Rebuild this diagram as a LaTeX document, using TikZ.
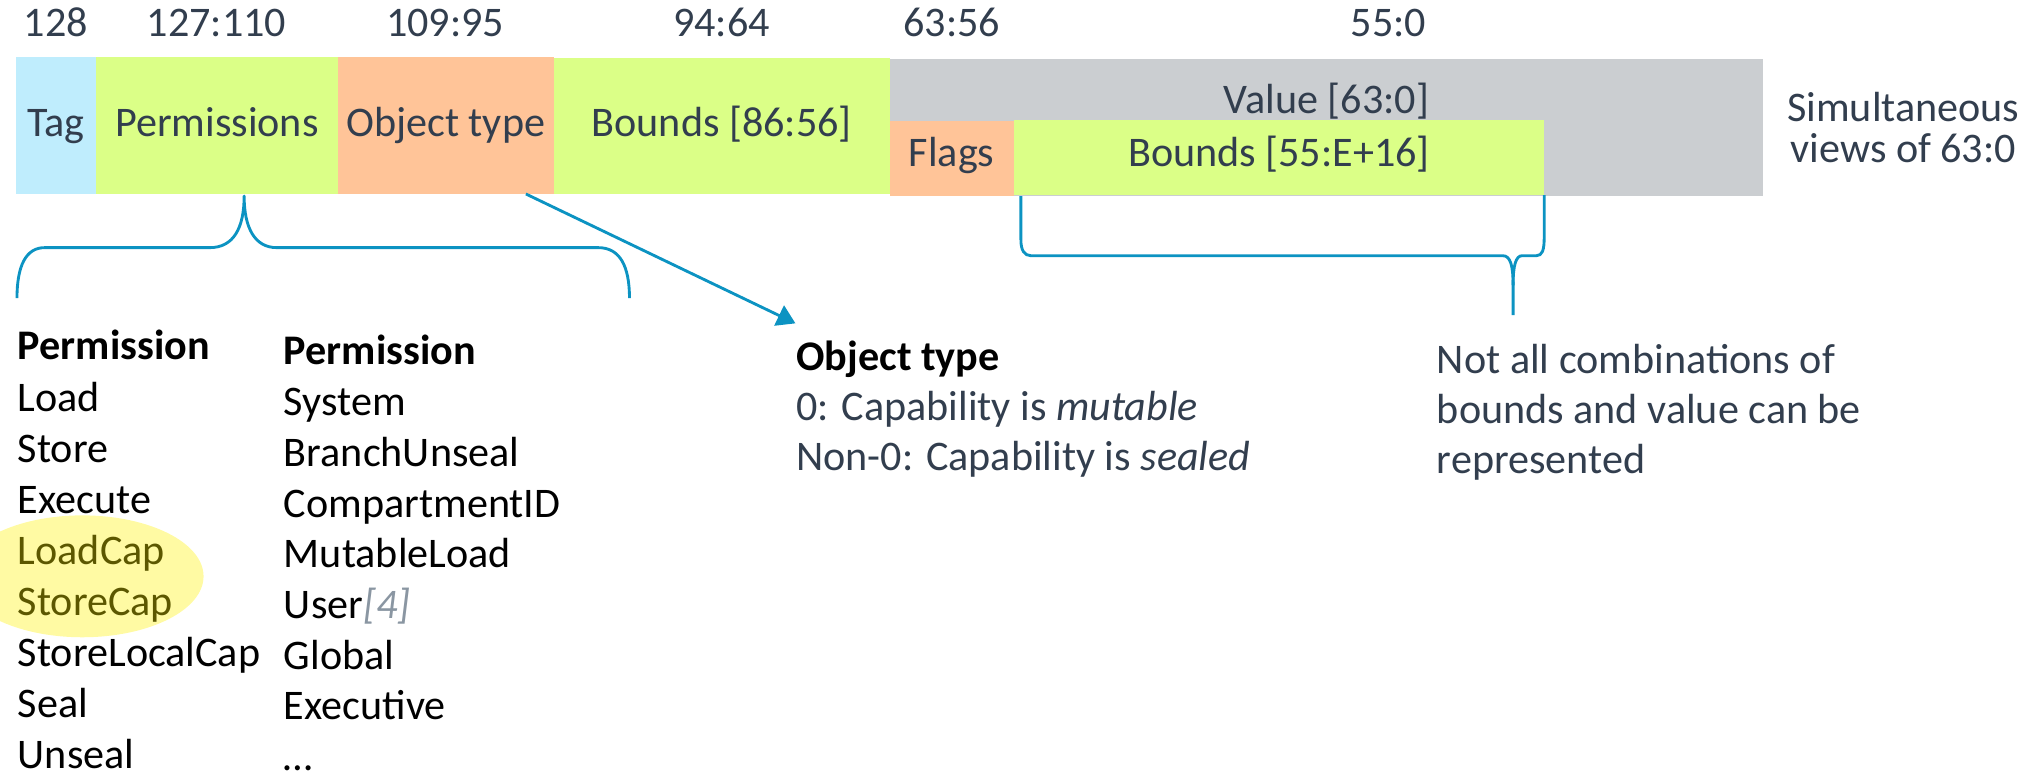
\documentclass[tikz,border=0pt]{standalone}
\usepackage{fontspec}
\setmainfont{Carlito}
\usetikzlibrary{arrows.meta,calc}

\definecolor{slate}{RGB}{50,62,78}
\definecolor{tagblue}{RGB}{191,237,253}
\definecolor{fieldgreen}{RGB}{219,255,135}
\definecolor{fieldorange}{RGB}{255,196,152}
\definecolor{valuegrey}{RGB}{203,206,209}
\definecolor{linkblue}{RGB}{12,147,194}
\definecolor{idxgrey}{RGB}{138,150,162}

\begin{document}
\begin{tikzpicture}[x=1pt,y=-1pt,
  every node/.style={inner sep=0pt, outer sep=0pt},
  field/.style={anchor=north west, draw=none},
  txt/.style={font=\fontsize{32.5}{39}\selectfont},
  lbl/.style={txt, text=slate, anchor=base},
  note/.style={txt, text=slate, anchor=base west},
  listtxt/.style={txt, text=black, anchor=base west, text depth=0pt},
  conn/.style={draw=linkblue, line width=2.2pt, line join=round},
  highlight/.style={fill=yellow, fill opacity=0.36}]

\useasboundingbox (0,0) rectangle (1568,599);
\clip (0,0) rectangle (1568,599);

% ---- the 129-bit capability word ----
\node[field, fill=tagblue,    minimum width=61.6pt,  minimum height=105.9pt] (tag)   at (12.4,43.7) {};
\node[field, fill=fieldgreen, minimum width=186.6pt, minimum height=105.9pt] (perm)  at (74,43.7) {};
\node[field, fill=fieldorange,minimum width=166.4pt, minimum height=105.9pt] (otype) at (260.6,43.7) {};
\node[field, fill=fieldgreen, minimum width=259.3pt, minimum height=105.5pt] (bnd)   at (427,44.5) {};
\node[field, fill=valuegrey,  minimum width=673.2pt, minimum height=105.7pt] (value) at (686.3,45.5) {};
\node[field, fill=fieldorange,minimum width=95.7pt,  minimum height=57.9pt]  (flags) at (686.3,93.3) {};
\node[field, fill=fieldgreen, minimum width=408.8pt, minimum height=57.9pt]  (bnds)  at (782,92.5) {};

% field names
\node[lbl] (tagT)   at (43.2,105.4)  {Tag};
\node[lbl] (permT)  at (167.3,105.4) {Permissions};
\node[lbl] (otypeT) at (343.8,105.4) {Object type};
\node[lbl] (bndT)   at (556.7,105.4) {Bounds [86:56]};
\node[lbl] (valueT) at (1023,87.4)   {Value [63:0]};
\node[lbl] (flagsT) at (734,128.5)   {Flags};
\node[lbl] (bndsT)  at (986.4,128.5) {Bounds [55:E+16]};

% bit ranges
\node[lbl] (r1) at (43,28.3)    {128};
\node[lbl] (r2) at (167,28.3)   {127:110};
\node[lbl] (r3) at (343.4,28.3) {109:95};
\node[lbl] (r4) at (556.5,28.3) {94:64};
\node[lbl] (r5) at (734,28.3)   {63:56};
\node[lbl] (r6) at (1071,28.3)  {55:0};

% side note
\node[lbl] (sim1) at (1468,93.5)  {Simultaneous};
\node[lbl] (sim2) at (1468,125.5) {views of 63:0};

% ---- permission lists ----
\node[listtxt, font=\fontsize{32.5}{39}\selectfont\bfseries] (pa0) at (13.8,277.6) {Permission};
\foreach \w [count=\i] in {Load,Store,Execute,LoadCap,StoreCap,StoreLocalCap,Seal,Unseal}
  \node[listtxt] (pa\i) at (13.8,{277.6+39.4*\i}) {\w};

\node[listtxt, font=\fontsize{32.5}{39}\selectfont\bfseries] (pb0) at (219,281.5) {Permission};
\foreach \w [count=\i] in {System,BranchUnseal,CompartmentID,MutableLoad,{User\textcolor{idxgrey}{\itshape[4]}},Global,Executive,…}
  \node[listtxt] (pb\i) at (219,{281.5+39.1*\i}) {\w};

% highlight over the capability load/store permissions
\fill[highlight] (63.5,444.5) ellipse [x radius=93.5, y radius=47];

% ---- object type note ----
\node[listtxt, font=\fontsize{32.5}{39}\selectfont\bfseries] (ot0) at (614.2,285.4) {Object type};
\node[note] (ot1) at (614.2,324)   {0: Capability is \textit{mutable}};
\node[note] (ot2) at (614.2,362.5) {Non-0: Capability is \textit{sealed}};

% ---- representability note ----
\node[note] (rep1) at (1108.3,288)   {Not all combinations of};
\node[note] (rep2) at (1108.3,326.5) {bounds and value can be};
\node[note] (rep3) at (1108.3,365)   {represented};

% ---- connectors ----
\coordinate (otip) at (613.5,249.4);
\draw[conn, -{Triangle[length=14pt,width=17pt]}] ($(otype.south)+(61.8,0)$) -- (otip);

% brace under the permissions field
\draw[conn] (13.1,230) .. controls (13.1,205) and (20,191) .. (34.4,191)
  -- (161.8,191) .. controls (180,191) and (188.3,176) .. (188.3,151.2)
  .. controls (188.3,176) and (196.6,191) .. (213.5,191)
  -- (461.4,191) .. controls (478,191) and (485.5,205) .. (485.5,230);

% brace under the lower bounds field
\draw[conn] (787.4,151.2) -- (787.4,185) .. controls (787.4,193) and (790,197.2) .. (795,197.2)
  -- (1159,197.2) .. controls (1165,197.2) and (1167,205) .. (1167,220) -- (1167,243);
\draw[conn] (1167,220) .. controls (1167,205) and (1169,197.2) .. (1174,197.2)
  -- (1185,197.2) .. controls (1189.5,197.2) and (1191,193) .. (1191,183) -- (1191,150.4);

\end{tikzpicture}
\end{document}
